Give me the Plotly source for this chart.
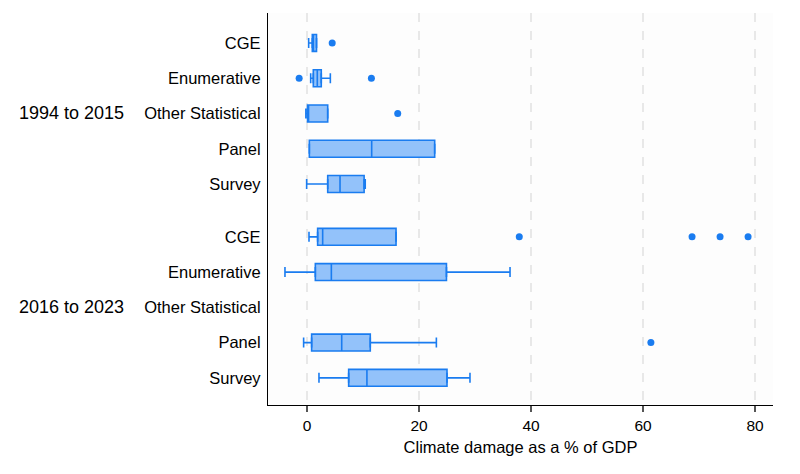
import plotly.graph_objects as go

categories = ["CGE", "Enumerative", "Other Statistical", "Panel", "Survey"]
periods = ["1994 to 2015", "2016 to 2023"]

# 1994 to 2015
lo_a = [0.3, 0.66, -0.2, 0.42, -0.06]
q1_a = [0.95, 1.13, 0.1, 0.42, 3.7]
med_a = [1.15, 1.84, 0.25, 11.55, 5.9]
q3_a = [1.7, 2.55, 3.7, 22.8, 10.2]
hi_a = [1.7, 4.17, 3.7, 22.8, 10.4]
out_a = {"CGE": [4.5], "Enumerative": [-1.4, 11.5], "Other Statistical": [16.2]}

# 2016 to 2023 (no Other Statistical)
lo_b = [0.36, -3.93, None, -0.6, 2.14]
q1_b = [1.9, 1.49, None, 0.83, 7.44]
med_b = [2.8, 4.35, None, 6.2, 10.7]
q3_b = [15.9, 24.9, None, 11.3, 25.0]
hi_b = [15.9, 36.25, None, 23.1, 29.1]
out_b = {"CGE": [37.9, 68.75, 73.75, 78.75], "Panel": [61.4]}

LINE = "#1a7cf0"
FILL = "#93c2fa"

fig = go.Figure()
tickvals, ticktext = [], []
group_gap = 5.5
for g, (lo, q1, med, q3, hi, outs) in enumerate([
    (lo_a, q1_a, med_a, q3_a, hi_a, out_a),
    (lo_b, q1_b, med_b, q3_b, hi_b, out_b),
]):
    ys, L, Q1, M, Q3, H = [], [], [], [], [], []
    for i, c in enumerate(categories):
        pos = g * group_gap + i
        tickvals.append(pos)
        ticktext.append(c)
        if q1[i] is None:
            continue
        ys.append(pos); L.append(lo[i]); Q1.append(q1[i]); M.append(med[i]); Q3.append(q3[i]); H.append(hi[i])
    fig.add_trace(go.Box(
        y=ys, q1=Q1, median=M, q3=Q3, lowerfence=Q1, upperfence=Q3,
        orientation="h", width=0.48, fillcolor=FILL,
        line=dict(color=LINE, width=1.6), boxpoints=False, showlegend=False,
    ))
    # lower whiskers
    fig.add_trace(go.Scatter(
        x=Q1, y=ys, mode="markers", marker=dict(size=1, opacity=0),
        error_x=dict(type="data", symmetric=False,
                     array=[0] * len(ys), arrayminus=[a - b for a, b in zip(Q1, L)],
                     color=LINE, thickness=1.6, width=5),
        showlegend=False, hoverinfo="skip",
    ))
    # upper whiskers
    fig.add_trace(go.Scatter(
        x=Q3, y=ys, mode="markers", marker=dict(size=1, opacity=0),
        error_x=dict(type="data", symmetric=False,
                     array=[b - a for a, b in zip(Q3, H)], arrayminus=[0] * len(ys),
                     color=LINE, thickness=1.6, width=5),
        showlegend=False, hoverinfo="skip",
    ))
    ox, oy = [], []
    for c, vals in outs.items():
        pos = g * group_gap + categories.index(c)
        for v in vals:
            ox.append(v); oy.append(pos)
    fig.add_trace(go.Scatter(
        x=ox, y=oy, mode="markers", marker=dict(size=7, color=LINE),
        showlegend=False,
    ))

for g, p in enumerate(periods):
    fig.add_annotation(
        x=-0.282, xref="paper", y=g * group_gap + 2, yref="y",
        text=p, showarrow=False, xanchor="right",
        font=dict(size=18, color="black"),
    )

fig.update_layout(
    width=800, height=474,
    margin=dict(l=268, r=27, t=13, b=69),
    paper_bgcolor="white", plot_bgcolor="#fdfdfd",
    font=dict(family="Liberation Sans, Arial, sans-serif", color="black"),
)
fig.update_xaxes(
    range=[-6.96, 83.2], tickvals=[0, 20, 40, 60, 80],
    showgrid=True, gridcolor="#e8e8e8", griddash="dash", gridwidth=1.5,
    zeroline=False, showline=True, linecolor="black", linewidth=1.2,
    ticks="outside", ticklen=6, tickcolor="#555", tickwidth=1.5,
    tickfont=dict(size=15.5),
    title=dict(text="Climate damage as a % of GDP", font=dict(size=16.5), standoff=8),
)
fig.update_yaxes(
    range=[10.27, -0.85], tickvals=tickvals, ticktext=ticktext,
    showgrid=False, zeroline=False, showline=True, linecolor="black", linewidth=1.2,
    ticks="", tickfont=dict(size=16.5), ticklabelstandoff=3,
)

fig.write_html("out.html")
